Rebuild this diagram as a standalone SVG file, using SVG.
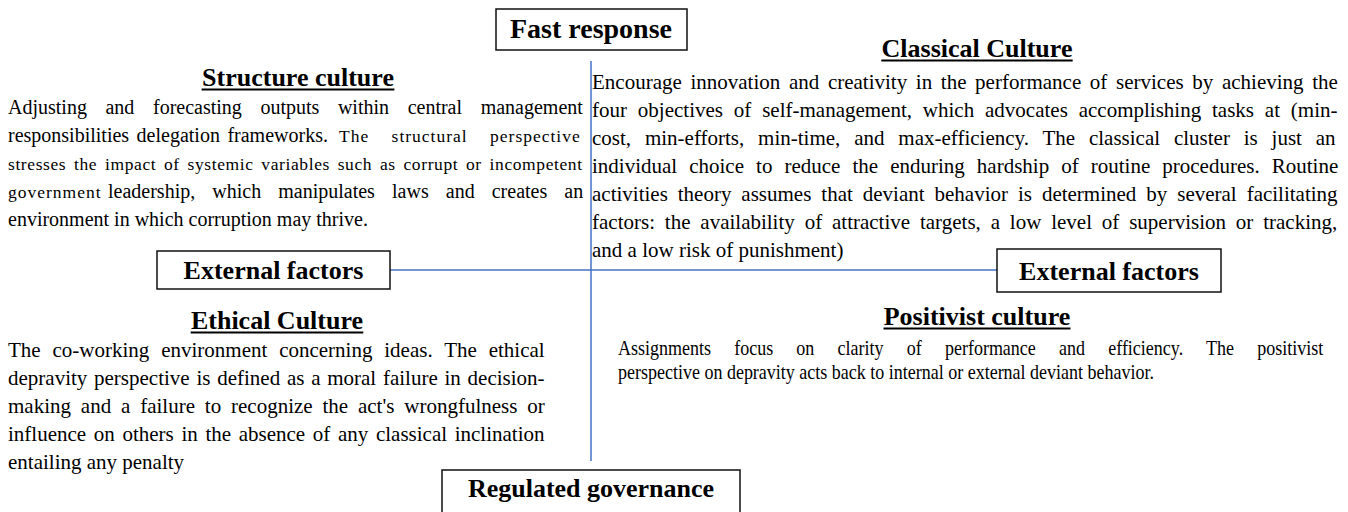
<svg xmlns="http://www.w3.org/2000/svg" width="1348" height="512" viewBox="0 0 1348 512">
<style>
text{font-family:"Liberation Serif","Times New Roman",serif;fill:#000}
.b{font-size:21px}
.n{font-size:20px}
.s{font-size:17.5px}
.p{font-size:20px}
.h{font-size:26px;font-weight:bold}
.ul{stroke:#000;stroke-width:2.2}
.lbl{font-size:26px;font-weight:bold}
.box{fill:#fff;stroke:#111;stroke-width:1.5}
.conn{stroke:#4472C4;stroke-width:1.5;fill:none}
</style>
<rect width="1348" height="512" fill="#fff"/>
<g id="connectors">
<line class="conn" x1="591" y1="61" x2="591" y2="461"/>
<line class="conn" x1="390" y1="270" x2="997" y2="270"/>
</g>
<g id="fast-response">
<rect class="box" x="496" y="9" width="191" height="41"/>
<text class="lbl" x="591" y="38" text-anchor="middle" style="font-size:28px">Fast response</text>
</g>
<g id="external-left">
<rect class="box" x="157" y="251" width="233" height="38"/>
<text class="lbl" x="273.5" y="279" text-anchor="middle">External factors</text>
</g>
<g id="external-right">
<rect class="box" x="997" y="249" width="224" height="43"/>
<text class="lbl" x="1109" y="280" text-anchor="middle">External factors</text>
</g>
<g id="regulated-governance">
<rect class="box" x="442" y="470" width="298" height="60"/>
<text class="lbl" x="591" y="497" text-anchor="middle">Regulated governance</text>
</g>
<g id="structure-culture">
<text class="h" x="298" y="86" text-anchor="middle">Structure culture</text>
<line class="ul" x1="201.6" y1="89.5" x2="394.4" y2="89.5"/>
<text class="n" x="8" y="114" word-spacing="13.6">Adjusting and forecasting outputs within central management</text>
<text class="n" x="8" y="142" word-spacing="2.5">responsibilities delegation frameworks.</text>
<text class="s" x="339" y="142" letter-spacing="1" word-spacing="17">The structural perspective</text>
<text class="s" x="8" y="170" letter-spacing="0.6" word-spacing="2.8">stresses the impact of systemic variables such as corrupt or incompetent</text>
<text class="s" x="8" y="198" letter-spacing="1">government</text>
<text class="n" x="108" y="198" word-spacing="12.1">leadership, which manipulates laws and creates an</text>
<text class="n" x="8" y="226">environment in which corruption may thrive.</text>
</g>
<g id="classical-culture">
<text class="h" x="977" y="57" text-anchor="middle">Classical Culture</text>
<line class="ul" x1="881.3" y1="60.5" x2="1072.7" y2="60.5"/>
<text class="b" x="592" y="89" word-spacing="3.4">Encourage innovation and creativity in the performance of services by achieving the</text>
<text class="b" x="592" y="117" word-spacing="5.6">four objectives of self-management, which advocates accomplishing tasks at (min-</text>
<text class="b" x="592" y="145" word-spacing="8.6">cost, min-efforts, min-time, and max-efficiency. The classical cluster is just an</text>
<text class="b" x="592" y="173" word-spacing="6.8">individual choice to reduce the enduring hardship of routine procedures. Routine</text>
<text class="b" x="592" y="201" word-spacing="4.7">activities theory assumes that deviant behavior is determined by several facilitating</text>
<text class="b" x="592" y="229" word-spacing="4.6">factors: the availability of attractive targets, a low level of supervision or tracking,</text>
<text class="b" x="592" y="257">and a low risk of punishment)</text>
</g>
<g id="ethical-culture">
<text class="h" x="277" y="329" text-anchor="middle">Ethical Culture</text>
<line class="ul" x1="190.7" y1="332.5" x2="363.3" y2="332.5"/>
<text class="b" x="8" y="357" word-spacing="6.6">The co-working environment concerning ideas. The ethical</text>
<text class="b" x="8" y="385" word-spacing="1.5">depravity perspective is defined as a moral failure in decision-</text>
<text class="b" x="8" y="413" word-spacing="4.6">making and a failure to recognize the act's wrongfulness or</text>
<text class="b" x="8" y="441" word-spacing="2.4">influence on others in the absence of any classical inclination</text>
<text class="b" x="8" y="469">entailing any penalty</text>
</g>
<g id="positivist-culture">
<text class="h" x="977" y="325" text-anchor="middle">Positivist culture</text>
<line class="ul" x1="883.5" y1="328.5" x2="1070.5" y2="328.5"/>
<g transform="translate(618,0) scale(0.9,1)">
<text class="p" x="0" y="355" word-spacing="20.8">Assignments focus on clarity of performance and efficiency. The positivist</text>
<text class="p" x="0" y="379">perspective on depravity acts back to internal or external deviant behavior.</text>
</g>
</g>
</svg>
